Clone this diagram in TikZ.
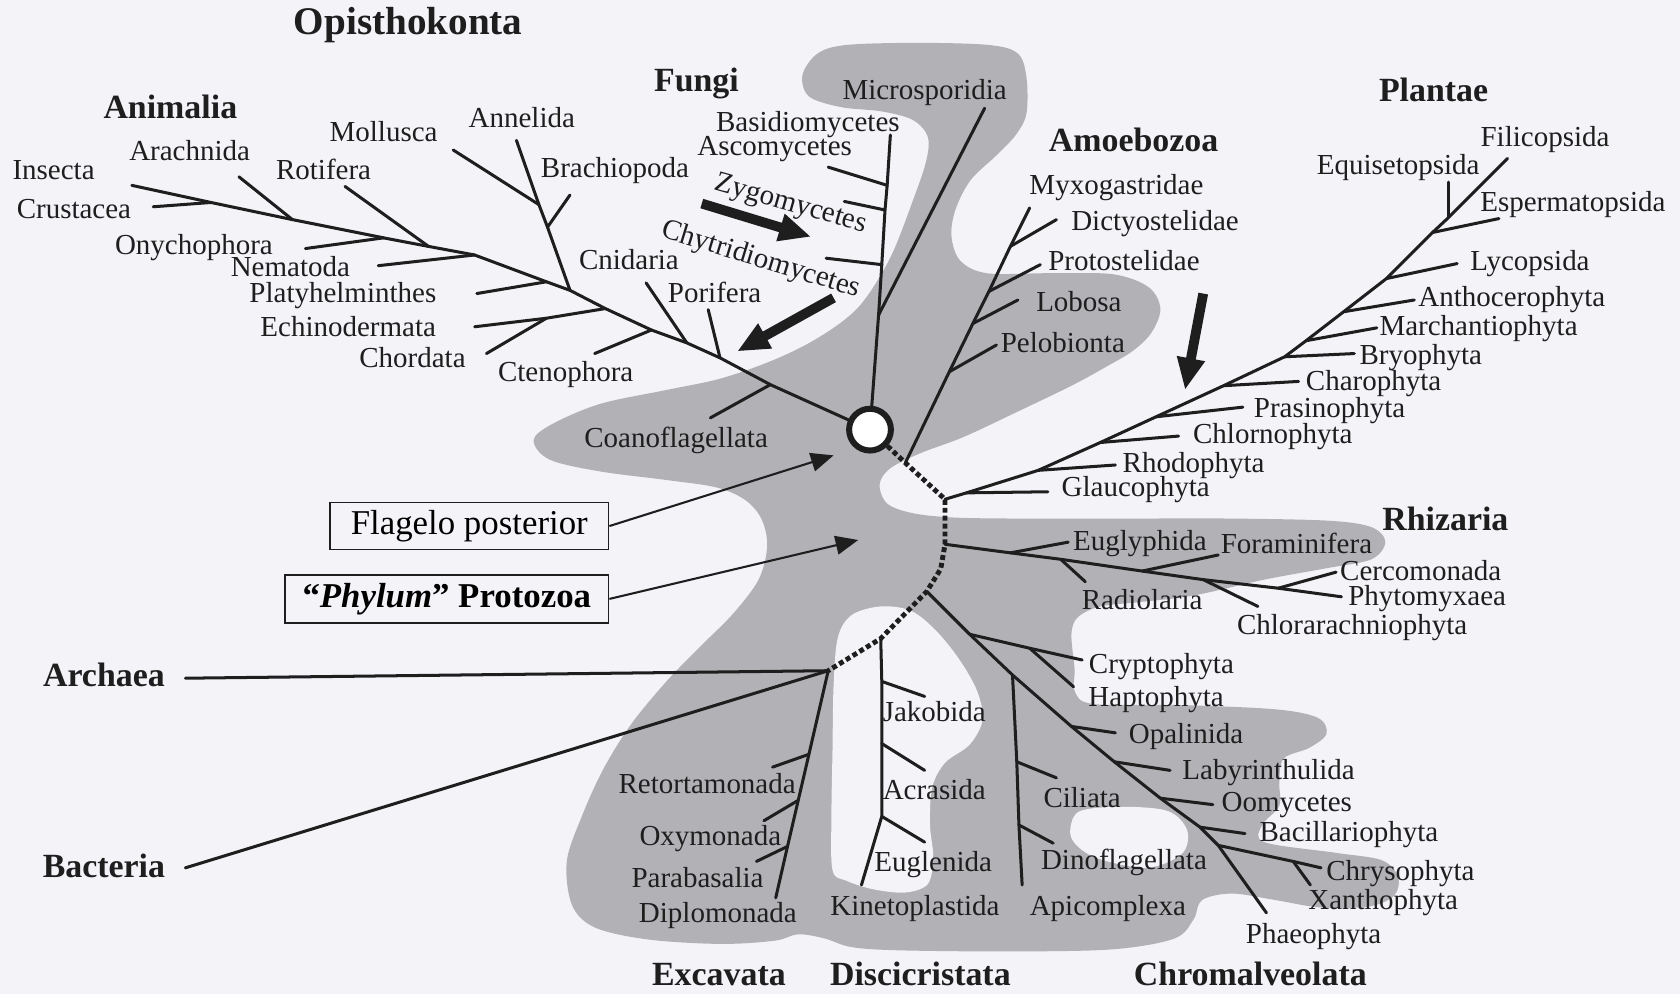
\documentclass[tikz,border=0pt]{standalone}
\usepackage{fontspec}
\setmainfont{Liberation Serif}
\usepackage{tikz}
\usetikzlibrary{arrows.meta,positioning,calc}
\definecolor{PaperColor}{RGB}{244,243,248}
\definecolor{BlobColor}{RGB}{178,177,182}
\definecolor{InkColor}{RGB}{30,30,30}

\begin{document}
\begin{tikzpicture}[x=0.02cm, y=-0.02cm, >=Latex,
    branch/.style={draw=InkColor, line width=1.6pt, line cap=round, line join=round},
    dotline/.style={draw=InkColor, line width=2.6pt, dash pattern=on 2.6pt off 1.6pt},
    taxfont/.style={font=\fontsize{15.4}{18}\selectfont, text=InkColor, inner sep=0pt},
    lbl/.style={taxfont, anchor=base, yshift=-5pt},
    grp/.style={font=\fontsize{18}{21}\selectfont\bfseries, text=InkColor, inner sep=0pt, anchor=base, yshift=-6pt},
    bigarrow/.style={draw=InkColor, line width=5.2pt, -{Triangle[length=17pt,width=14pt]}},
    ptr/.style={draw=InkColor, line width=1.1pt, -{Triangle[length=12pt,width=10pt]}},
    tagbox/.style={draw=InkColor, line width=0.9pt, fill=PaperColor, inner sep=0pt, font=\fontsize{18.5}{22}\selectfont}]
  \useasboundingbox (0,0) rectangle (1568,928);
  \fill[PaperColor] (0,0) rectangle (1568,928);

  % gray backdrop
  \fill[BlobColor] plot[smooth cycle, tension=0.55] coordinates {
    (498,411) (515,396) (560,377) (622,364) (670,354) (712,340) (748,324) (778,306)
    (800,288) (817,265) (834,234) (851,190) (864,152) (866,128) (852,112) (823,104)
    (785,100) (755,90) (749,70) (763,50) (790,42) (856,40) (923,42) (950,50)
    (958,72) (958,106) (948,126) (930,145) (906,168) (892,195) (888,220) (896,243)
    (921,255) (980,255) (1039,256) (1072,268) (1083,288) (1075,310) (1058,327) (1033,342)
    (1000,360) (946,386) (899,408) (859,423) (831,437) (821,452) (828,470) (852,479)
    (890,483) (950,484) (1050,484) (1150,484) (1240,486) (1280,492) (1293,506) (1280,522)
    (1240,530) (1180,541) (1113,556) (1063,562) (1027,566) (1006,576) (1000,592) (1003,625)
    (1003,645) (1020,657) (1100,658) (1190,662) (1230,670) (1238,685) (1222,698) (1198,708)
    (1194,730) (1194,752) (1178,770) (1180,786) (1247,796) (1290,803) (1305,819) (1301,836)
    (1278,846) (1233,847) (1190,840) (1150,834) (1122,840) (1114,858) (1096,876) (1039,886)
    (946,888) (840,887) (795,884) (770,876) (745,872) (723,878) (673,881) (606,877)
    (556,866) (534,845) (529,804) (543,762) (563,718) (589,676) (622,636) (653,604)
    (684,573) (708,541) (716,510) (711,485) (696,467) (669,455) (622,448) (560,440) (513,429)};
  \fill[PaperColor] plot[smooth cycle, tension=0.55] coordinates {
    (777,812) (776,760) (777,700) (778,640) (782,595) (795,574) (822,566) (850,570)
    (873,588) (895,615) (912,645) (917,672) (905,695) (882,712) (870,735) (868,770)
    (871,800) (866,825) (845,833) (815,830) (790,822)};
  \fill[PaperColor] plot[smooth cycle, tension=0.55] coordinates {
    (999,773) (1008,757) (1047,753) (1090,757) (1108,775) (1103,797) (1070,810) (1024,801) (1003,787)};

  \node[circle, draw=InkColor, line width=3.2pt, fill=white, minimum size=0.78cm, inner sep=0pt] (root) at (812,401) {};

  % Animalia
  \coordinate (tIns) at (123,173);
  \coordinate (jCru) at (197,189);
  \coordinate (jAra) at (273,205);
  \coordinate (jOny) at (358,222);
  \coordinate (jRot) at (400,230);
  \coordinate (jNem) at (443,238);
  \coordinate (jPla) at (510,263);
  \coordinate (jAnn) at (532,271);
  \coordinate (jEch) at (565,288);
  \coordinate (jCte) at (608,308);
  \coordinate (jCni) at (641,320);
  \coordinate (jPor) at (672,334);
  \coordinate (jCoa) at (719,359);
  \coordinate (tCru) at (143,193);
  \coordinate (tAra) at (223,165);
  \coordinate (tOny) at (285,232);
  \coordinate (tRot) at (322,174);
  \coordinate (tNem) at (353,248);
  \coordinate (tPla) at (445,274);
  \coordinate (tAnn) at (482,131);
  \coordinate (jMol) at (503,191);
  \coordinate (tMol) at (423,140);
  \coordinate (jBra) at (511,212);
  \coordinate (tBra) at (532,182);
  \coordinate (jEC) at (510,297);
  \coordinate (tEch) at (443,305);
  \coordinate (tCho) at (454,330);
  \coordinate (tCte) at (555,330);
  \coordinate (tCni) at (603,264);
  \coordinate (tPor) at (661,289);
  \coordinate (tCoa) at (663,390);
  \draw[branch] (root) -- (jCoa) -- (jPor) -- (jCni) -- (jCte) -- (jEch) -- (jAnn) -- (jPla)
    -- (jNem) -- (jRot) -- (jOny) -- (jAra) -- (jCru) -- (tIns);
  \draw[branch] (jCru) -- (tCru);
  \draw[branch] (jAra) -- (tAra);
  \draw[branch] (jOny) -- (tOny);
  \draw[branch] (jRot) -- (tRot);
  \draw[branch] (jNem) -- (tNem);
  \draw[branch] (jPla) -- (tPla);
  \draw[branch] (jAnn) -- (jBra) -- (jMol) -- (tAnn);
  \draw[branch] (jMol) -- (tMol);
  \draw[branch] (jBra) -- (tBra);
  \draw[branch] (jEch) -- (jEC) -- (tEch);
  \draw[branch] (jEC) -- (tCho);
  \draw[branch] (jCte) -- (tCte);
  \draw[branch] (jCni) -- (tCni);
  \draw[branch] (jPor) -- (tPor);
  \draw[branch] (jCoa) -- (tCoa);

  % Fungi
  \coordinate (fTop) at (831,126);
  \coordinate (jAsc) at (828,173);
  \coordinate (jZyg) at (826,196);
  \coordinate (jChy) at (823,247);
  \coordinate (jMic) at (820,294);
  \coordinate (tAsc) at (773,156);
  \coordinate (tZyg) at (788,188);
  \coordinate (tChy) at (771,241);
  \coordinate (tMic) at (919,101);
  \draw[branch] (fTop) -- (jAsc) -- (jZyg) -- (jChy) -- (jMic) -- (root);
  \draw[branch] (jAsc) -- (tAsc);
  \draw[branch] (jZyg) -- (tZyg);
  \draw[branch] (jChy) -- (tChy);
  \draw[branch] (jMic) -- (tMic);

  % dotted stem
  \coordinate (dA) at (845,432);
  \coordinate (P1) at (882,466);
  \coordinate (P2) at (882,508);
  \coordinate (dB) at (878,531);
  \coordinate (P3) at (865,552);
  \coordinate (P4) at (822,596);
  \coordinate (P5) at (773,626);
  \draw[dotline] (root) -- (dA) -- (P1) -- (P2) -- (dB) -- (P3) -- (P4) -- (P5);

  % Amoebozoa
  \coordinate (jPel) at (886,347);
  \coordinate (jLob) at (908,302);
  \coordinate (jPro) at (923,272);
  \coordinate (jDic) at (943,230);
  \coordinate (tMyx) at (961,194);
  \coordinate (tPel) at (930,322);
  \coordinate (tLob) at (950,280);
  \coordinate (tPro) at (971,247);
  \coordinate (tDic) at (986,205);
  \draw[branch] (dA) -- (jPel) -- (jLob) -- (jPro) -- (jDic) -- (tMyx);
  \draw[branch] (jPel) -- (tPel);
  \draw[branch] (jLob) -- (tLob);
  \draw[branch] (jPro) -- (tPro);
  \draw[branch] (jDic) -- (tDic);

  % Plantae
  \coordinate (jGla) at (902,460);
  \coordinate (jRho) at (969,439);
  \coordinate (jChn) at (1027,413);
  \coordinate (jPra) at (1079,389);
  \coordinate (jCha) at (1142,360);
  \coordinate (jBry) at (1199,333);
  \coordinate (jMar) at (1219,318);
  \coordinate (jAnt) at (1254,291);
  \coordinate (jLyc) at (1294,260);
  \coordinate (jEsp) at (1337,217);
  \coordinate (jEqu) at (1352,203);
  \coordinate (tFil) at (1407,148);
  \coordinate (tGla) at (978,459);
  \coordinate (tRho) at (1041,434);
  \coordinate (tChn) at (1100,407);
  \coordinate (tPra) at (1160,380);
  \coordinate (tCha) at (1212,356);
  \coordinate (tBry) at (1264,330);
  \coordinate (tMar) at (1285,306);
  \coordinate (tAnt) at (1320,280);
  \coordinate (tLyc) at (1360,246);
  \coordinate (tEsp) at (1399,204);
  \coordinate (tEqu) at (1352,170);
  \draw[branch] (P1) -- (jGla) -- (jRho) -- (jChn) -- (jPra) -- (jCha) -- (jBry) -- (jMar)
    -- (jAnt) -- (jLyc) -- (jEsp) -- (jEqu) -- (tFil);
  \draw[branch] (jGla) -- (tGla);
  \draw[branch] (jRho) -- (tRho);
  \draw[branch] (jChn) -- (tChn);
  \draw[branch] (jPra) -- (tPra);
  \draw[branch] (jCha) -- (tCha);
  \draw[branch] (jBry) -- (tBry);
  \draw[branch] (jMar) -- (tMar);
  \draw[branch] (jAnt) -- (tAnt);
  \draw[branch] (jLyc) -- (tLyc);
  \draw[branch] (jEsp) -- (tEsp);
  \draw[branch] (jEqu) -- (tEqu);

  % Rhizaria
  \coordinate (jEug) at (943,516);
  \coordinate (jRad) at (990,522);
  \coordinate (jFor) at (1066,533);
  \coordinate (jCra) at (1123,541);
  \coordinate (jCer) at (1193,549);
  \coordinate (tPhy) at (1252,557);
  \coordinate (tEug) at (997,506);
  \coordinate (tRad) at (1013,543);
  \coordinate (tFor) at (1137,518);
  \coordinate (tCra) at (1174,566);
  \coordinate (tCer) at (1247,534);
  \draw[branch] (P2) -- (jEug) -- (jRad) -- (jFor) -- (jCra) -- (jCer) -- (tPhy);
  \draw[branch] (jEug) -- (tEug);
  \draw[branch] (jRad) -- (tRad);
  \draw[branch] (jFor) -- (tFor);
  \draw[branch] (jCra) -- (tCra);
  \draw[branch] (jCer) -- (tCer);

  % Chromalveolata
  \coordinate (jCry) at (905,592);
  \coordinate (jCil) at (945,630);
  \coordinate (jOpa) at (1000,678);
  \coordinate (jLab) at (1040,711);
  \coordinate (jOom) at (1083,745);
  \coordinate (jBacil) at (1120,772);
  \coordinate (jChs) at (1137,789);
  \coordinate (tPha) at (1182,852);
  \coordinate (jHap) at (961,605);
  \coordinate (tCry) at (1010,616);
  \coordinate (tHap) at (1002,641);
  \coordinate (tOpa) at (1041,684);
  \coordinate (tLab) at (1092,719);
  \coordinate (tOom) at (1132,751);
  \coordinate (tBacil) at (1162,778);
  \coordinate (jXan) at (1207,804);
  \coordinate (tChs) at (1233,810);
  \coordinate (tXan) at (1223,826);
  \coordinate (jCilb) at (949,711);
  \coordinate (jDin) at (951,770);
  \coordinate (tApi) at (954,826);
  \coordinate (tCil) at (986,726);
  \coordinate (tDin) at (983,787);
  \draw[branch] (P3) -- (jCry) -- (jCil) -- (jOpa) -- (jLab) -- (jOom) -- (jBacil) -- (jChs) -- (tPha);
  \draw[branch] (jCry) -- (jHap) -- (tCry);
  \draw[branch] (jHap) -- (tHap);
  \draw[branch] (jOpa) -- (tOpa);
  \draw[branch] (jLab) -- (tLab);
  \draw[branch] (jOom) -- (tOom);
  \draw[branch] (jBacil) -- (tBacil);
  \draw[branch] (jChs) -- (jXan) -- (tChs);
  \draw[branch] (jXan) -- (tXan);
  \draw[branch] (jCil) -- (jCilb) -- (jDin) -- (tApi);
  \draw[branch] (jCilb) -- (tCil);
  \draw[branch] (jDin) -- (tDin);

  % Discicristata
  \coordinate (jJak) at (823,636);
  \coordinate (jAcr) at (823,694);
  \coordinate (jEgl) at (823,762);
  \coordinate (tKin) at (804,826);
  \coordinate (tJak) at (863,650);
  \coordinate (tAcr) at (863,719);
  \coordinate (tEgl) at (863,786);
  \draw[branch] (P4) -- (jJak) -- (jAcr) -- (jEgl) -- (tKin);
  \draw[branch] (jJak) -- (tJak);
  \draw[branch] (jAcr) -- (tAcr);
  \draw[branch] (jEgl) -- (tEgl);

  % Excavata, Archaea, Bacteria
  \coordinate (jRet) at (755,704);
  \coordinate (jOxy) at (745,747);
  \coordinate (jPar) at (735,790);
  \coordinate (tDip) at (724,838);
  \coordinate (tRet) at (721,716);
  \coordinate (tOxy) at (713,766);
  \coordinate (tPar) at (706,804);
  \coordinate (tArc) at (173,633);
  \coordinate (tBact) at (173,810);
  \draw[branch] (P5) -- (jRet) -- (jOxy) -- (jPar) -- (tDip);
  \draw[branch] (jRet) -- (tRet);
  \draw[branch] (jOxy) -- (tOxy);
  \draw[branch] (jPar) -- (tPar);
  \draw[branch] (tArc) -- (P5);
  \draw[branch] (tBact) -- (P5);

  % taxa
  \node[lbl] (insecta) at (50,159) {Insecta};
  \node[lbl] (arachnida) at (177,141) {Arachnida};
  \node[lbl] (crustacea) at (69,195) {Crustacea};
  \node[lbl] (rotifera) at (302,159) {Rotifera};
  \node[lbl] (mollusca) at (358,123) {Mollusca};
  \node[lbl] (annelida) at (487,110) {Annelida};
  \node[lbl] (brachiopoda) at (574,157) {Brachiopoda};
  \node[lbl] (onychophora) at (181,229) {Onychophora};
  \node[lbl] (nematoda) at (271,249) {Nematoda};
  \node[lbl] (platyhelm) at (320,274) {Platyhelminthes};
  \node[lbl] (echino) at (325,305) {Echinodermata};
  \node[lbl] (chordata) at (385,334) {Chordata};
  \node[lbl] (ctenophora) at (528,347) {Ctenophora};
  \node[lbl] (cnidaria) at (587,243) {Cnidaria};
  \node[lbl] (porifera) at (667,274) {Porifera};
  \node[lbl] (coano) at (631,409) {Coanoflagellata};
  \node[lbl] (microsp) at (863,84) {Microsporidia};
  \node[lbl] (basidio) at (754,114) {Basidiomycetes};
  \node[lbl] (asco) at (723,136) {Ascomycetes};
  \node[taxfont, rotate=-16] (zygo) at (738,191) {Zygomycetes};
  \node[taxfont, rotate=-17] (chytri) at (710,243) {Chytridiomycetes};
  \node[lbl] (myxo) at (1042,173) {Myxogastridae};
  \node[lbl] (dictyo) at (1078,206) {Dictyostelidae};
  \node[lbl] (protoste) at (1049,244) {Protostelidae};
  \node[lbl] (lobosa) at (1007,282) {Lobosa};
  \node[lbl] (pelobio) at (992,320) {Pelobionta};
  \node[lbl] (equiset) at (1305,154) {Equisetopsida};
  \node[lbl] (filicop) at (1442,128) {Filicopsida};
  \node[lbl] (espermat) at (1468,189) {Espermatopsida};
  \node[lbl] (lycop) at (1428,244) {Lycopsida};
  \node[lbl] (anthoc) at (1411,277) {Anthocerophyta};
  \node[lbl] (marchan) at (1380,304) {Marchantiophyta};
  \node[lbl] (bryo) at (1326,331) {Bryophyta};
  \node[lbl] (charo) at (1282,356) {Charophyta};
  \node[lbl] (prasino) at (1241,381) {Prasinophyta};
  \node[lbl] (chlorno) at (1188,405) {Chlornophyta};
  \node[lbl] (rhodo) at (1114,432) {Rhodophyta};
  \node[lbl] (glauco) at (1060,455) {Glaucophyta};
  \node[lbl] (euglyph) at (1064,505) {Euglyphida};
  \node[lbl] (foram) at (1210,508) {Foraminifera};
  \node[lbl] (cercom) at (1326,533) {Cercomonada};
  \node[lbl] (phytomyx) at (1332,556) {Phytomyxaea};
  \node[lbl] (radiol) at (1066,560) {Radiolaria};
  \node[lbl] (chlorar) at (1262,583) {Chlorarachniophyta};
  \node[lbl] (crypto) at (1084,620) {Cryptophyta};
  \node[lbl] (hapto) at (1079,651) {Haptophyta};
  \node[lbl] (opalin) at (1107,685) {Opalinida};
  \node[lbl] (labyr) at (1184,719) {Labyrinthulida};
  \node[lbl] (oomyc) at (1201,749) {Oomycetes};
  \node[lbl] (bacill) at (1259,777) {Bacillariophyta};
  \node[lbl] (chryso) at (1307,813) {Chrysophyta};
  \node[lbl] (xantho) at (1291,840) {Xanthophyta};
  \node[lbl] (phaeo) at (1226,872) {Phaeophyta};
  \node[lbl] (jakob) at (872,665) {Jakobida};
  \node[lbl] (acras) at (872,737) {Acrasida};
  \node[lbl] (euglen) at (871,805) {Euglenida};
  \node[lbl] (kineto) at (854,846) {Kinetoplastida};
  \node[lbl] (ciliata) at (1010,745) {Ciliata};
  \node[lbl] (dinofl) at (1049,803) {Dinoflagellata};
  \node[lbl] (apicom) at (1034,846) {Apicomplexa};
  \node[lbl] (retorta) at (660,732) {Retortamonada};
  \node[lbl] (oxymon) at (663,780) {Oxymonada};
  \node[lbl] (paraba) at (651,820) {Parabasalia};
  \node[lbl] (diplom) at (670,852) {Diplomonada};

  % groups
  \node[grp, font=\fontsize{20.8}{24}\selectfont\bfseries] (opisth) at (381,22) {Opisthokonta};
  \node[grp] (animalia) at (159,100) {Animalia};
  \node[grp] (fungi) at (650,75) {Fungi};
  \node[grp] (amoebo) at (1058,131) {Amoebozoa};
  \node[grp] (plantae) at (1338,84) {Plantae};
  \node[grp] (rhizaria) at (1349,485) {Rhizaria};
  \node[grp] (archaea) at (97,630) {Archaea};
  \node[grp] (bacteria) at (97,808) {Bacteria};
  \node[grp] (excavata) at (671,909) {Excavata};
  \node[grp] (discic) at (859,909) {Discicristata};
  \node[grp] (chromalv) at (1167,909) {Chromalveolata};

  % block arrows
  \coordinate (zygA) at (655,190);
  \coordinate (zygB) at (757,221);
  \coordinate (chyA) at (778,278);
  \coordinate (chyB) at (688,328);
  \coordinate (plaA) at (1123,274);
  \coordinate (plaB) at (1106,364);
  \draw[bigarrow] (zygA) -- (zygB);
  \draw[bigarrow] (chyA) -- (chyB);
  \draw[bigarrow] (plaA) -- (plaB);

  % boxes
  \node[tagbox, minimum width=5.2cm, minimum height=0.88cm] (flagelo) at (438,491) {Flagelo posterior};
  \node[tagbox, minimum width=6.04cm, minimum height=0.9cm, font=\fontsize{18.5}{22}\selectfont\bfseries] (protozoa) at (417,559) {“\textit{Phylum}” Protozoa};
  \coordinate (flaTip) at (778,425);
  \coordinate (proTip) at (801,504);
  \draw[ptr] (flagelo.east) -- (flaTip);
  \draw[ptr] (protozoa.east) -- (proTip);
\end{tikzpicture}
\end{document}
